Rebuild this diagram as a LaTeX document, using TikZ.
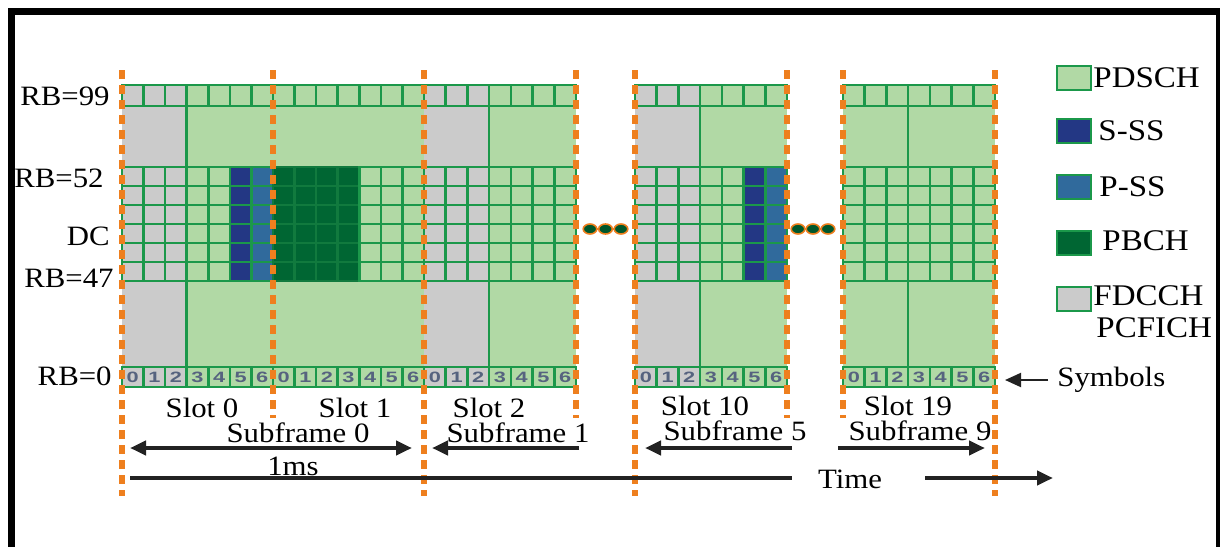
\documentclass[tikz,border=0pt]{standalone}
\usepackage{fontspec}
\setmainfont{Liberation Serif}[FakeStretch=1.1]
\newfontfamily\digitfont{Liberation Sans}[FakeStretch=1.45]
\usetikzlibrary{arrows.meta}

\definecolor{pdsch}{HTML}{B1D9A5}
\definecolor{gridgreen}{HTML}{1B984A}
\definecolor{ctrlgrey}{HTML}{CBCBCB}
\definecolor{sss}{HTML}{233784}
\definecolor{pss}{HTML}{306A9C}
\definecolor{pbch}{HTML}{006633}
\definecolor{pbchedge}{HTML}{117A3E}
\definecolor{slotorange}{HTML}{EE7F1E}
\definecolor{arrowgrey}{HTML}{222222}
\definecolor{digitblue}{HTML}{56637F}

\tikzset{
  cell/.style={draw=gridgreen, line width=1.3pt},
  cpd/.style={fill=pdsch},
  cgr/.style={fill=ctrlgrey},
  css/.style={fill=sss},
  cps/.style={fill=pss},
  cpb/.style={fill=pbch, draw=pbchedge},
  digit/.style={font=\digitfont\bfseries\fontsize{7.5}{8}\selectfont, text=digitblue, inner sep=0pt},
  slotline/.style={draw=slotorange, line width=2.6pt, dash pattern=on 4.5pt off 3pt},
  lbl/.style={font=\fontsize{14}{16}\selectfont, inner sep=0pt},
  rblbl/.style={lbl, anchor=east},
  keytext/.style={font=\fontsize{15}{17}\selectfont, inner sep=0pt, anchor=west},
  swatch/.style={draw=gridgreen, line width=1.3pt, minimum width=17pt, minimum height=12pt, inner sep=0pt},
  span/.style={draw=arrowgrey, line width=2pt},
  tip/.style={-{Triangle[length=8pt,width=7pt]}},
  dot/.style={fill=pbch!85!black, draw=slotorange, line width=0.8pt},
}

% One slot of the resource grid: seven symbol columns.
% #1,#2 left and right edge; #3 = 1 when symbols 0-2 carry the control region;
% #4 fill styles of the seven columns in the centre band; #5 = 1 for a divider at symbol 3.
\newcommand\rbslot[5]{%
  \pgfmathsetmacro\sw{(#2-#1)/7}%
  \pgfmathsetmacro\xm{#1+3*\sw}%
  \ifnum#3=1
    \fill[ctrlgrey] (#1,106) rectangle (\xm,167);
    \fill[ctrlgrey] (#1,281) rectangle (\xm,367);
    \fill[pdsch] (\xm,106) rectangle (#2,167);
    \fill[pdsch] (\xm,281) rectangle (#2,367);
  \else
    \fill[pdsch] (#1,106) rectangle (#2,167);
    \fill[pdsch] (#1,281) rectangle (#2,367);
  \fi
  \ifnum#5=1
    \draw[cell] (\xm,106) -- (\xm,167) (\xm,281) -- (\xm,367);
  \fi
  \foreach \c [count=\k from 0] in {#4}{%
    \pgfmathsetmacro\xa{#1+\k*\sw}%
    \pgfmathsetmacro\xb{\xa+\sw}%
    \def\rc{cpd}%
    \ifnum#3=1 \ifnum\k<3 \def\rc{cgr}\fi\fi
    \filldraw[cell,\rc] (\xa,85) rectangle (\xb,106);
    \filldraw[cell,\rc] (\xa,367) rectangle (\xb,387);
    \node[digit] at ({(\xa+\xb)/2},377) {\k};
    \foreach \r in {0,...,5}
      \filldraw[cell,\c] (\xa,{167+19*\r}) rectangle (\xb,{186+19*\r});
  }%
}

\begin{document}
\begin{tikzpicture}[x=0.5pt,y=-0.5pt]
\useasboundingbox (0,0) rectangle (1220,546);
\fill[white] (0,0) rectangle (1220,546);

% outer frame
\draw[line width=3.5pt] (11,560) -- (11,11) -- (1219,11) -- (1219,560);

% resource grid
\rbslot{122}{273}{1}{cgr,cgr,cgr,cpd,cpd,css,cps}{1}
\rbslot{273}{424}{0}{cpb,cpb,cpb,cpb,cpd,cpd,cpd}{0}
\rbslot{424}{576}{1}{cgr,cgr,cgr,cpd,cpd,cpd,cpd}{1}
\rbslot{635}{787}{1}{cgr,cgr,cgr,cpd,cpd,css,cps}{1}
\rbslot{843}{995}{0}{cpd,cpd,cpd,cpd,cpd,cpd,cpd}{1}

% slot boundaries
\foreach \x in {122,424,635,995} \draw[slotline] (\x,70) -- (\x,496);
\foreach \x in {273,576,787,843} \draw[slotline] (\x,70) -- (\x,418);

% omitted slots
\foreach \xa/\xm/\xb in {590/605.5/621,798/813/828}{
  \draw[slotorange, line width=1.4pt] (\xa,229) -- (\xb,229);
  \foreach \x in {\xa,\xm,\xb}
    \filldraw[dot] (\x,229) ellipse [x radius=3.4pt, y radius=2.5pt];
}

% resource block labels
\node[rblbl] (rb99) at (110,96) {RB=99};
\node[rblbl] (rb52) at (104,178) {RB=52};
\node[rblbl] (dc) at (110,236) {DC};
\node[rblbl] (rb47) at (114,278) {RB=47};
\node[rblbl] (rb0) at (112,376) {RB=0};

% slot and subframe labels
\node[lbl] (slot0) at (202,408) {Slot 0};
\node[lbl] (slot1) at (355,408) {Slot 1};
\node[lbl] (slot2) at (489,408) {Slot 2};
\node[lbl] (slot10) at (705,406) {Slot 10};
\node[lbl] (slot19) at (908,406) {Slot 19};
\node[lbl] (sf0) at (298,433) {Subframe 0};
\node[lbl] (sf1) at (518,433) {Subframe 1};
\node[lbl] (sf5) at (735,431) {Subframe 5};
\node[lbl] (sf9) at (920,431) {Subframe 9};
\node[lbl] (ms) at (293,466) {1ms};
\node[lbl] (time) at (850,479) {Time};

% durations
\coordinate (a0l) at (130,448); \coordinate (a0r) at (412,448);
\coordinate (a1s) at (579,448); \coordinate (a1e) at (432,448);
\coordinate (a5s) at (792,448); \coordinate (a5e) at (645,448);
\coordinate (a9s) at (838,448); \coordinate (a9e) at (985,448);
\draw[span,{Triangle[length=8pt,width=7pt]}-{Triangle[length=8pt,width=7pt]}] (a0l) -- (a0r);
\draw[span,tip] (a1s) -- (a1e);
\draw[span,tip] (a5s) -- (a5e);
\draw[span,tip] (a9s) -- (a9e);

% time axis
\coordinate (t0) at (130,478); \coordinate (t1) at (792,478);
\coordinate (t2) at (925,478); \coordinate (t3) at (1053,478);
\draw[span] (t0) -- (t1);
\draw[span,tip] (t2) -- (t3);

% symbol index pointer
\node[lbl, anchor=west] (symbols) at (1057,380) {Symbols};
\coordinate (symtip) at (1005,380);
\draw[draw=arrowgrey, line width=1pt, -{Triangle[length=8pt,width=7pt]}] (symbols.west) ++(-9,0) -- (symtip);

% legend
\node[swatch, fill=pdsch] (k1) at (1074,78) {};
\node[keytext] (k1t) at (1093,78) {PDSCH};
\node[swatch, fill=sss] (k2) at (1074,131) {};
\node[keytext] (k2t) at (1098,131) {S-SS};
\node[swatch, fill=pss] (k3) at (1074,187) {};
\node[keytext] (k3t) at (1099,187) {P-SS};
\node[swatch, fill=pbch] (k4) at (1074,243) {};
\node[keytext] (k4t) at (1102,241) {PBCH};
\node[swatch, fill=ctrlgrey] (k5) at (1074,299) {};
\node[keytext] (k5t) at (1093,296) {FDCCH};
\node[keytext] (k5u) at (1096,328) {PCFICH};
\end{tikzpicture}
\end{document}
